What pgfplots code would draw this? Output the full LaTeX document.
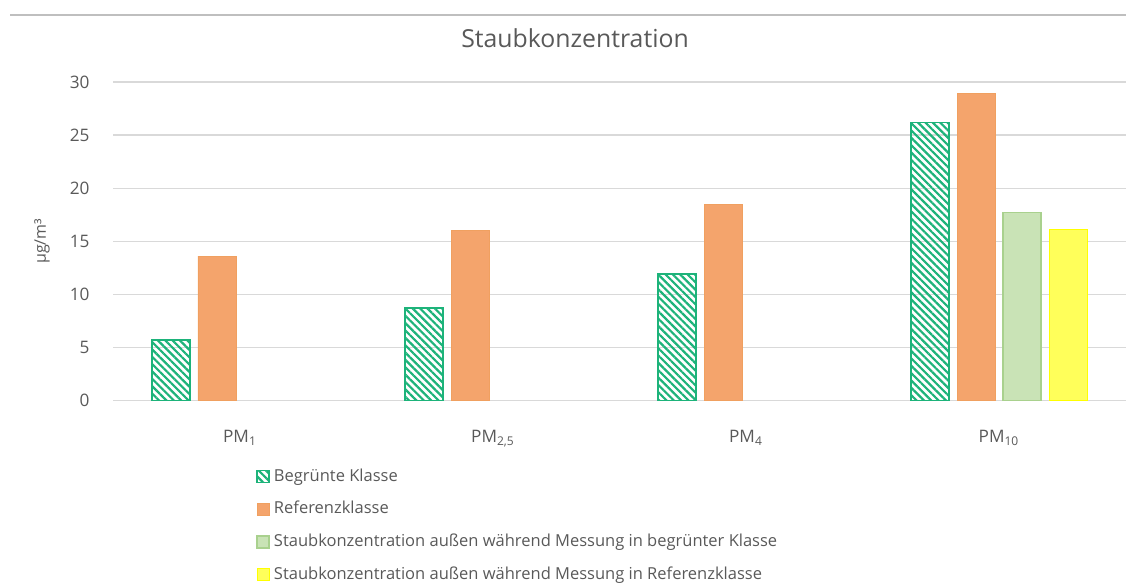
\documentclass[border=0pt]{standalone}
\usepackage{pgfplots}
\pgfplotsset{compat=1.18}
\usepackage{fontspec}
\setmainfont{Open Sans}
\usetikzlibrary{patterns.meta}
\definecolor{txt}{HTML}{595959}
\definecolor{gridc}{HTML}{D9D9D9}
\definecolor{grn}{HTML}{1DB37A}
\definecolor{org}{HTML}{F4A46C}
\definecolor{orgb}{HTML}{F0A060}
\definecolor{lgrn}{HTML}{C9E3B6}
\definecolor{lgrnb}{HTML}{A9D18E}
\definecolor{yel}{HTML}{FFFF5A}
\definecolor{yelb}{HTML}{FFFF00}
\begin{document}
\begin{tikzpicture}
\draw[color=black!25, line width=1pt] (5pt,286pt) -- (563pt,286pt);
\node[text=txt, font=\fontsize{12.4}{14}\selectfont] at (287.5pt,274.5pt) {Staubkonzentration};
\begin{axis}[
  at={(56.75pt,93.25pt)}, anchor=south west,
  scale only axis, width=506pt, height=159.25pt,
  ybar=4pt, bar width=19pt,
  xmin=-0.5, xmax=3.5, ymin=0, ymax=30,
  xtick={0,1,2,3},
  xticklabels={PM\textsubscript{1}, PM\textsubscript{2,5}, PM\textsubscript{4}, PM\textsubscript{10}},
  ytick={0,5,10,15,20,25,30},
  ymajorgrids, grid style={gridc, line width=0.6pt},
  major tick length=0pt,
  axis line style={draw=none},
  axis x line*=bottom,
  x axis line style={draw=gridc, line width=0.6pt},
  /pgf/number format/assume math mode=true,
  tick label style={text=txt, font=\fontsize{8.6}{10}\selectfont},
  yticklabel style={xshift=-8.5pt},
  xticklabel style={yshift=-11.5pt},
  ylabel={µg/m³},
  every axis y label/.style={at={(-35.75pt,0.5)}, rotate=90, anchor=center, text=txt, font=\fontsize{8}{10}\selectfont},
  legend style={at={(0.1408,-0.2)}, anchor=north west, draw=none, fill=none,
    font=\fontsize{8.25}{10}\selectfont, text=txt, row sep=4.6pt, inner sep=0pt},
  legend cell align=left,
  legend image code/.code={\draw[#1] (0pt,-3pt) rectangle (6pt,3pt);},
]
\addplot[draw=grn, line width=0.8pt, fill=white, pattern={Lines[angle=-45,distance=2.6pt,line width=1.1pt]}, pattern color=grn]
  coordinates {(0,5.7) (1,8.7) (2,11.9) (3,26.2)};
\addplot[draw=orgb, line width=0.4pt, fill=org]
  coordinates {(0,13.6) (1,16.0) (2,18.5) (3,28.9)};
\addplot[draw=lgrnb, line width=0.8pt, fill=lgrn]
  coordinates {(3,17.7)};
\addplot[draw=yelb, line width=0.4pt, fill=yel]
  coordinates {(3,16.1)};
\legend{Begrünte Klasse, Referenzklasse, Staubkonzentration außen während Messung in begrünter Klasse, Staubkonzentration außen während Messung in Referenzklasse}
\end{axis}
\pgfresetboundingbox
\path (0,0) rectangle (563pt,293.5pt);
\end{tikzpicture}
\end{document}
